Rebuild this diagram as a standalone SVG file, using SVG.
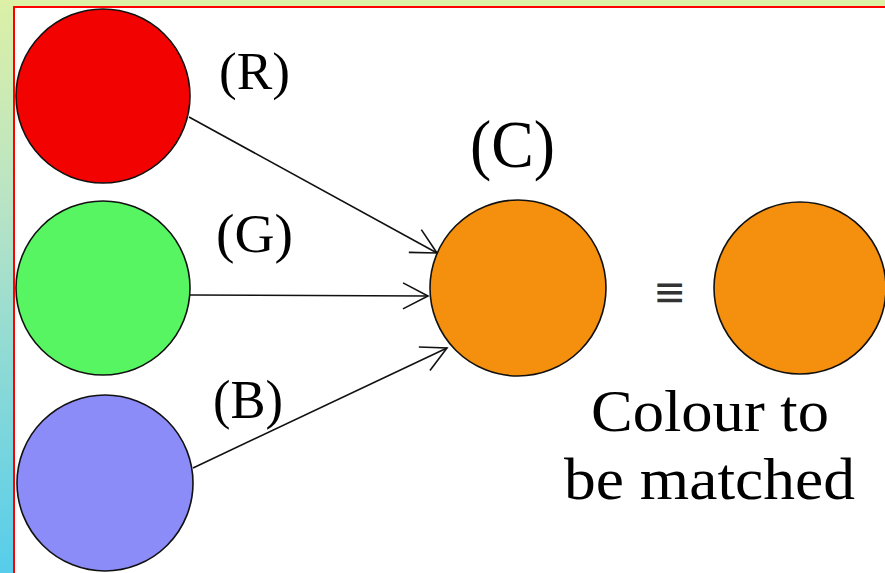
<svg xmlns="http://www.w3.org/2000/svg" width="885" height="573" viewBox="0 0 885 573">
  <defs>
    <linearGradient id="sideGrad" x1="0" y1="0" x2="0" y2="1">
      <stop offset="0" stop-color="#dcf0a6"/>
      <stop offset="0.35" stop-color="#b9e4c4"/>
      <stop offset="1" stop-color="#56cdeb"/>
    </linearGradient>
    <marker id="arrow" markerUnits="userSpaceOnUse" markerWidth="30" markerHeight="30" refX="0" refY="0" orient="auto" overflow="visible">
      <path d="M-25,-13 L0,0 L-25,13" fill="none" stroke="#111" stroke-width="1.6"/>
    </marker>
    <style>
      .node { stroke: #111; stroke-width: 1.6; }
      .lbl { font-family: "Liberation Serif", "Times New Roman", serif; fill: #000; }
      .conn { fill: none; stroke: #111; stroke-width: 1.6; marker-end: url(#arrow); }
    </style>
  </defs>

  <!-- background -->
  <rect x="0" y="0" width="885" height="573" fill="#ffffff"/>
  <rect x="0" y="0" width="885" height="7" fill="#dcf0a6"/>
  <rect x="0" y="0" width="14" height="573" fill="url(#sideGrad)"/>
  <rect x="14" y="6" width="871" height="2" fill="#ff0000"/>
  <rect x="13" y="6" width="2" height="567" fill="#ff0000"/>

  <g id="connectors">
    <line class="conn" x1="189" y1="117" x2="437" y2="253"/>
    <line class="conn" x1="190" y1="295" x2="428" y2="296"/>
    <line class="conn" x1="193" y1="468" x2="447" y2="348"/>
  </g>

  <g id="node-R">
    <circle class="node" cx="103" cy="96" r="87" fill="#f30202"/>
    <text class="lbl" x="219" y="89" font-size="52" textLength="71" lengthAdjust="spacingAndGlyphs">(R)</text>
  </g>
  <g id="node-G">
    <circle class="node" cx="103" cy="288" r="87" fill="#58f562"/>
    <text class="lbl" x="216" y="252" font-size="55" textLength="77" lengthAdjust="spacingAndGlyphs">(G)</text>
  </g>
  <g id="node-B">
    <circle class="node" cx="105" cy="483" r="88" fill="#8c8cf8"/>
    <text class="lbl" x="213" y="418" font-size="55" textLength="70" lengthAdjust="spacingAndGlyphs">(B)</text>
  </g>
  <g id="node-C">
    <circle class="node" cx="518" cy="288" r="88" fill="#f4900e"/>
    <text class="lbl" x="470" y="167" font-size="67" textLength="85" lengthAdjust="spacingAndGlyphs">(C)</text>
  </g>
  <g id="node-target">
    <text x="653" y="306" font-family="DejaVu Sans, sans-serif" font-size="42" fill="#333" textLength="33" lengthAdjust="spacingAndGlyphs">≡</text>
    <circle class="node" cx="800" cy="288" r="86" fill="#f4900e"/>
    <text class="lbl" x="591" y="431" font-size="60" textLength="238" lengthAdjust="spacingAndGlyphs">Colour to</text>
    <text class="lbl" x="564" y="499" font-size="60" textLength="291" lengthAdjust="spacingAndGlyphs">be matched</text>
  </g>
</svg>
